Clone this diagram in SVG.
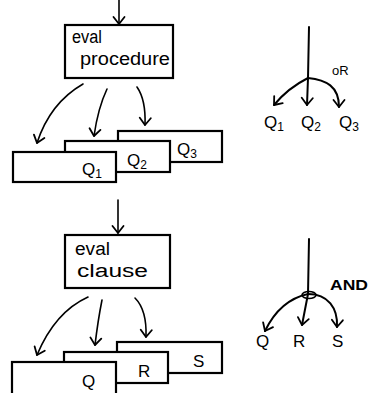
<svg xmlns="http://www.w3.org/2000/svg" width="379" height="393" viewBox="0 0 379 393">
<style>
.box{fill:#fff;stroke:#000;stroke-width:2.2}
.ln{fill:none;stroke:#000;stroke-width:1.6;stroke-linecap:round}
.lnb{fill:none;stroke:#000;stroke-width:2;stroke-linecap:round}
.t{font-family:"Liberation Sans","DejaVu Sans",sans-serif;fill:#000}
.hw{font-size:18px}
.lb{font-size:17px}
.sub{font-size:12px}
</style>
<defs>
<marker id="ah" markerUnits="userSpaceOnUse" markerWidth="14" markerHeight="14" refX="10" refY="7" orient="auto">
<path d="M3,1.5 L10,7 L3,12.5" fill="none" stroke="#000" stroke-width="1.8" stroke-linecap="round" stroke-linejoin="round"/>
</marker>
</defs>
<rect width="379" height="393" fill="#fff"/>
<g id="connectors">
<path class="ln" d="M119,0 L119,24" marker-end="url(#ah)"/>
<path class="ln" d="M83,84 Q50,103 37,143" marker-end="url(#ah)"/>
<path class="ln" d="M107,89 Q98,108 94,136" marker-end="url(#ah)"/>
<path class="ln" d="M137,87 Q146,100 145,125" marker-end="url(#ah)"/>
<path class="ln" d="M118,200 L118,233" marker-end="url(#ah)"/>
<path class="ln" d="M88,297 Q55,312 37,355" marker-end="url(#ah)"/>
<path class="ln" d="M102,300 Q98,320 95,345" marker-end="url(#ah)"/>
<path class="ln" d="M135,298 Q147,310 146,337" marker-end="url(#ah)"/>
<path class="lnb" d="M309,27 L308,78"/>
<path class="lnb" d="M308,78 Q288,88 274,105" marker-end="url(#ah)"/>
<path class="lnb" d="M308,78 L307,105" marker-end="url(#ah)"/>
<path class="lnb" d="M308,78 C326,80 339,86 339,107" marker-end="url(#ah)"/>
<path class="lnb" d="M309,239 L308,294"/>
<path class="lnb" d="M308,294 Q280,300 265,331" marker-end="url(#ah)"/>
<path class="lnb" d="M308,294 L302,325" marker-end="url(#ah)"/>
<path class="lnb" d="M308,294 C328,294 338,308 337,327" marker-end="url(#ah)"/>
<ellipse cx="309" cy="295" rx="7" ry="3.5" fill="none" stroke="#000" stroke-width="1.6"/>
</g>
<g id="eval-procedure">
<rect class="box" x="65" y="25" width="108" height="53"/>
<text class="t hw" x="72" y="43" textLength="30" lengthAdjust="spacingAndGlyphs">eval</text>
<text class="t hw" x="80" y="65" textLength="90" lengthAdjust="spacingAndGlyphs">procedure</text>
</g>
<g id="q3-box">
<rect class="box" x="118" y="131" width="104" height="31"/>
<text class="t lb" x="177" y="155">Q<tspan class="sub" dy="3">3</tspan></text>
</g>
<g id="q2-box">
<rect class="box" x="65" y="141" width="105" height="31"/>
<text class="t lb" x="127" y="166">Q<tspan class="sub" dy="3">2</tspan></text>
</g>
<g id="q1-box">
<rect class="box" x="13" y="152" width="103" height="30"/>
<text class="t lb" x="82" y="175">Q<tspan class="sub" dy="3">1</tspan></text>
</g>
<g id="or-tree">
<text class="t" x="332" y="75" font-size="13">oR</text>
<text class="t lb" x="264" y="128">Q<tspan class="sub" dy="3">1</tspan></text>
<text class="t lb" x="301" y="128">Q<tspan class="sub" dy="3">2</tspan></text>
<text class="t lb" x="339" y="128">Q<tspan class="sub" dy="3">3</tspan></text>
</g>
<g id="eval-clause">
<rect class="box" x="65" y="235" width="105" height="53"/>
<text class="t hw" x="75" y="255" textLength="35" lengthAdjust="spacingAndGlyphs">eval</text>
<text class="t hw" x="77" y="277" textLength="71" lengthAdjust="spacingAndGlyphs">clause</text>
</g>
<g id="s-box">
<rect class="box" x="117" y="342" width="105" height="31"/>
<text class="t lb" x="193" y="367">S</text>
</g>
<g id="r-box">
<rect class="box" x="64" y="352" width="104" height="31"/>
<text class="t lb" x="138" y="377">R</text>
</g>
<g id="q-box">
<rect class="box" x="12" y="362" width="104" height="40"/>
<text class="t lb" x="82" y="387">Q</text>
</g>
<g id="and-tree">
<text class="t" x="330" y="290" font-size="14" font-weight="bold" textLength="38" lengthAdjust="spacingAndGlyphs">AND</text>
<text class="t lb" x="256" y="347">Q</text>
<text class="t lb" x="293" y="347">R</text>
<text class="t lb" x="332" y="347">S</text>
</g>
</svg>
